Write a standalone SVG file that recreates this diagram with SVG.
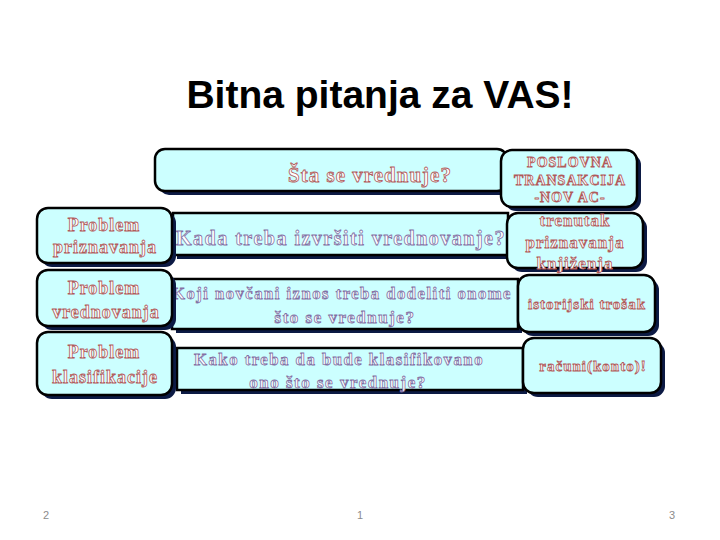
<svg xmlns="http://www.w3.org/2000/svg" width="720" height="540" viewBox="0 0 720 540">
<defs>
<style>
.sh{fill:#0c1a44}
.bx{fill:#ccffff;stroke:#000;stroke-width:2.5}
.tr{font-family:"Liberation Serif","DejaVu Serif",serif;font-weight:bold;fill:#ffffff;stroke:#b05a5a;stroke-width:0.8;text-anchor:middle;letter-spacing:1px}
.tp{font-family:"Liberation Serif","DejaVu Serif",serif;font-weight:bold;fill:#ffffff;stroke:#8270a4;stroke-width:0.8;text-anchor:middle;letter-spacing:1.5px}
.pg{font-family:"Liberation Sans",Arial,sans-serif;font-size:11px;fill:#8c8c8c;text-anchor:middle}
</style>
</defs>
<rect width="720" height="540" fill="#fff"/>
<text x="380" y="108" font-family="Liberation Sans,Arial,sans-serif" font-weight="bold" font-size="39" text-anchor="middle" fill="#000">Bitna pitanja za VAS!</text>

<g id="sta">
<rect class="sh" x="159" y="153" width="352" height="42" rx="10"/>
<rect class="bx" x="155" y="149" width="352" height="42" rx="10"/>
<text class="tr" x="370" y="182" font-size="21">Šta se vrednuje?</text>
</g>
<g id="kada">
<rect class="sh" x="177" y="217" width="335" height="42"/>
<rect class="bx" x="173" y="213" width="335" height="42"/>
<text class="tp" x="341" y="245" font-size="21" textLength="330" lengthAdjust="spacingAndGlyphs">Kada treba izvršiti vrednovanje?</text>
</g>
<g id="koji">
<rect class="sh" x="176" y="283" width="346" height="50"/>
<rect class="bx" x="172" y="279" width="346" height="50"/>
<text class="tp" x="342" y="299" font-size="17" textLength="340" lengthAdjust="spacingAndGlyphs">Koji novčani iznos treba dodeliti onome</text>
<text class="tp" x="345" y="323" font-size="17">što se vrednuje?</text>
</g>
<g id="kako">
<rect class="sh" x="181" y="352" width="346" height="42"/>
<rect class="bx" x="177" y="348" width="346" height="42"/>
<text class="tp" x="339" y="365" font-size="17" textLength="290" lengthAdjust="spacingAndGlyphs">Kako treba da bude klasifikovano</text>
<text class="tp" x="338" y="388" font-size="17">ono što se vrednuje?</text>
</g>

<g id="priznavanja">
<rect class="sh" x="41" y="212" width="135" height="55" rx="11"/>
<rect class="bx" x="37" y="208" width="135" height="55" rx="11"/>
<text class="tr" x="104" y="231" font-size="18">Problem</text>
<text class="tr" x="105" y="253" font-size="18">priznavanja</text>
</g>
<g id="vrednovanja">
<rect class="sh" x="41" y="274" width="135" height="56" rx="11"/>
<rect class="bx" x="37" y="270" width="135" height="56" rx="11"/>
<text class="tr" x="104" y="294" font-size="18">Problem</text>
<text class="tr" x="106" y="318" font-size="18">vrednovanja</text>
</g>
<g id="klasifikacije">
<rect class="sh" x="41" y="336" width="135" height="63" rx="11"/>
<rect class="bx" x="37" y="332" width="135" height="63" rx="11"/>
<text class="tr" x="104" y="358" font-size="18">Problem</text>
<text class="tr" x="105" y="383" font-size="18">klasifikacije</text>
</g>

<g id="poslovna">
<rect class="sh" x="505" y="154" width="136" height="57" rx="11"/>
<rect class="bx" x="501" y="150" width="136" height="57" rx="11"/>
<text class="tr" x="570" y="167" font-size="14">POSLOVNA</text>
<text class="tr" x="570" y="185" font-size="14">TRANSAKCIJA</text>
<text class="tr" x="570" y="202" font-size="14">-NOV AC-</text>
</g>
<g id="trenutak">
<rect class="sh" x="511" y="217" width="136" height="55" rx="11"/>
<rect class="bx" x="507" y="213" width="136" height="55" rx="11"/>
<text class="tr" x="575" y="226" font-size="17">trenutak</text>
<text class="tr" x="575" y="248" font-size="17">priznavanja</text>
<text class="tr" x="575" y="269" font-size="17">knjiženja</text>
</g>
<g id="istorijski">
<rect class="sh" x="522" y="279" width="137" height="57" rx="11"/>
<rect class="bx" x="518" y="275" width="137" height="57" rx="11"/>
<text class="tr" x="587" y="309" font-size="15">istorijski trošak</text>
</g>
<g id="racuni">
<rect class="sh" x="527" y="342" width="138" height="55" rx="11"/>
<rect class="bx" x="523" y="338" width="138" height="55" rx="11"/>
<text class="tr" x="593" y="371" font-size="15">računi(konto)!</text>
</g>

<g id="connectors"></g>

<text class="pg" x="46" y="519">2</text>
<text class="pg" x="360" y="519">1</text>
<text class="pg" x="672" y="519">3</text>
</svg>
